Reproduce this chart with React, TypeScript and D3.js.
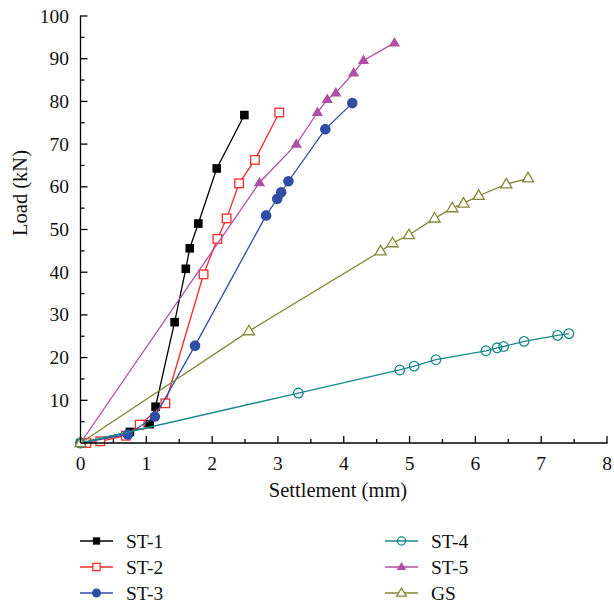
import React from "react";
import * as d3 from "d3";

const seriesNames = ["ST-1", "ST-2", "ST-3", "ST-4", "ST-5", "GS"];
const st1: [number, number][] = [[0, 0], [0.75, 2.6], [1.05, 4.4], [1.14, 8.5], [1.43, 28.3], [1.6, 40.8], [1.66, 45.6], [1.79, 51.4], [2.07, 64.3], [2.49, 76.8]];
const st2: [number, number][] = [[0.09, 0], [0.3, 0.4], [0.69, 1.7], [0.9, 4.3], [1.29, 9.3], [1.87, 39.5], [2.08, 47.8], [2.22, 52.6], [2.41, 60.8], [2.65, 66.3], [3.02, 77.4]];
const st3: [number, number][] = [[0, 0], [0.72, 2.0], [1.13, 6.2], [1.74, 22.8], [2.82, 53.3], [2.99, 57.2], [3.05, 58.7], [3.16, 61.3], [3.72, 73.5], [4.13, 79.6]];
const st4: [number, number][] = [[0, 0], [3.31, 11.7], [4.85, 17.1], [5.07, 18.0], [5.4, 19.5], [6.16, 21.6], [6.33, 22.3], [6.43, 22.6], [6.74, 23.8], [7.25, 25.2], [7.42, 25.6]];
const st5: [number, number][] = [[0, 0], [2.72, 61.0], [3.28, 70.0], [3.6, 77.4], [3.75, 80.5], [3.88, 82.0], [4.15, 86.7], [4.3, 89.6], [4.77, 93.7]];
const gs: [number, number][] = [[0, 0], [2.56, 26.2], [4.56, 44.9], [4.74, 46.8], [4.99, 48.7], [5.38, 52.6], [5.65, 55.0], [5.82, 56.1], [6.05, 57.9], [6.47, 60.6], [6.8, 62.0]];
const allSeries = [st1, st2, st3, st4, st5, gs];
const colors = ["#000000", "#f52a2a", "#2e4ea6", "#17888a", "#b04fa6", "#85873a"];
const markers = ["squareFilled", "squareOpen", "circleFilled", "circleOpen", "triFilled", "triOpen"];
const xTicks = [0, 1, 2, 3, 4, 5, 6, 7, 8];
const yTicks = [10, 20, 30, 40, 50, 60, 70, 80, 90, 100];

const FONT = "'Liberation Serif', 'Times New Roman', serif";

function Marker({ kind, color, cx, cy, s = 1 }: { kind: string; color: string; cx: number; cy: number; s?: number }) {
  if (kind === "squareFilled" || kind === "squareOpen") {
    const h = 4.3 * s;
    const open = kind === "squareOpen";
    return <rect x={cx - h} y={cy - h} width={2 * h} height={2 * h} fill={open ? "#fff" : color} stroke={color} strokeWidth={open ? 1.3 : 0} />;
  }
  if (kind === "circleFilled" || kind === "circleOpen") {
    const open = kind === "circleOpen";
    const r = (open ? 4.8 : 5.3) * s;
    return <circle cx={cx} cy={cy} r={r} fill={open ? "none" : color} stroke={color} strokeWidth={open ? 1.3 : 0} />;
  }
  const open = kind === "triOpen";
  const w = 5.6 * s;
  const hgt = 9.5 * s;
  const p = `M${cx},${cy - hgt * 0.62} L${cx + w},${cy + hgt * 0.38} L${cx - w},${cy + hgt * 0.38} Z`;
  return <path d={p} fill={open ? "#fff" : color} stroke={color} strokeWidth={open ? 1.3 : 0} />;
}

export default function App() {
  const x = d3.scaleLinear().domain([0, 8]).range([80.5, 607]);
  const y = d3.scaleLinear().domain([0, 100]).range([443, 16]);
  const line = d3.line<[number, number]>().x((d) => x(d[0])).y((d) => y(d[1]));
  const xMinor = d3.range(0.5, 8, 1);
  const yMinor = d3.range(5, 100, 10);

  return (
    <svg width={614} height={608} style={{ position: "absolute", left: 0, top: 0, background: "#fff" }} fontFamily={FONT}>
      {allSeries.map((data, i) => (
        <g key={seriesNames[i]}>
          <path d={line(data) || ""} fill="none" stroke={colors[i]} strokeWidth={1.3} />
          {data.map((d, j) => (
            <Marker key={j} kind={markers[i]} color={colors[i]} cx={x(d[0])} cy={y(d[1])} />
          ))}
        </g>
      ))}
      <g stroke="#000" strokeWidth={1.3} fill="none">
        <line x1={x(0)} x2={x(8) + 0.6} y1={y(0)} y2={y(0)} />
        <line x1={x(0)} x2={x(0)} y1={y(0)} y2={y(100) - 0.6} />
        {xTicks.map((t) => (
          <line key={"xt" + t} x1={x(t)} x2={x(t)} y1={y(0)} y2={y(0) - 7} />
        ))}
        {xMinor.map((t) => (
          <line key={"xm" + t} x1={x(t)} x2={x(t)} y1={y(0)} y2={y(0) - 4} />
        ))}
        {yTicks.map((t) => (
          <line key={"yt" + t} x1={x(0)} x2={x(0) + 7} y1={y(t)} y2={y(t)} />
        ))}
        {yMinor.map((t) => (
          <line key={"ym" + t} x1={x(0)} x2={x(0) + 4} y1={y(t)} y2={y(t)} />
        ))}
      </g>
      <g fontSize={19.5} fill="#111">
        {xTicks.map((t) => (
          <text key={"xl" + t} x={x(t)} y={470} textAnchor="middle">{t}</text>
        ))}
        {yTicks.map((t) => (
          <text key={"yl" + t} x={69} y={y(t) + 6.5} textAnchor="end">{t}</text>
        ))}
      </g>
      <g fontSize={20.5} fill="#111">
        <text x={338} y={497} textAnchor="middle">Settlement (mm)</text>
        <text transform={`translate(27,193) rotate(-90)`} textAnchor="middle">Load (kN)</text>
      </g>
      <g fontSize={19.5} fill="#111">
        {seriesNames.map((name, i) => {
          const col = Math.floor(i / 3);
          const row = i % 3;
          const lx = col === 0 ? 80 : 385;
          const ly = 541 + row * 26;
          return (
            <g key={"lg" + name}>
              <line x1={lx} x2={lx + 33} y1={ly} y2={ly} stroke={colors[i]} strokeWidth={1.3} />
              <Marker kind={markers[i]} color={colors[i]} cx={lx + 16.5} cy={ly} s={0.85} />
              <text x={lx + 46} y={ly + 6.5}>{name}</text>
            </g>
          );
        })}
      </g>
    </svg>
  );
}
